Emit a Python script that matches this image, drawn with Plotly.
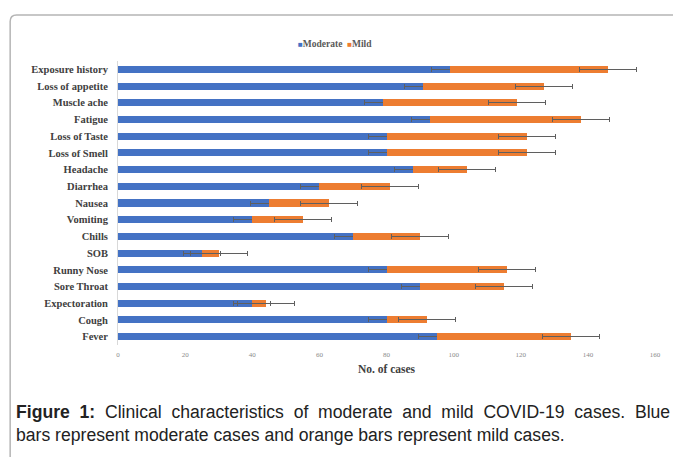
import plotly.graph_objects as go

categories = ["Exposure history", "Loss of appetite", "Muscle ache", "Fatigue",
              "Loss of Taste", "Loss of Smell", "Headache", "Diarrhea", "Nausea",
              "Vomiting", "Chills", "SOB", "Runny Nose", "Sore Throat",
              "Expectoration", "Cough", "Fever"]
moderate = [99, 91, 79, 93, 80, 80, 88, 60, 45, 40, 70, 25, 80, 90, 40, 80, 95]
mild = [47, 36, 40, 45, 42, 42, 16, 21, 18, 15, 20, 5, 36, 25, 4, 12, 40]
moderate_err = 5.5
mild_err = 8.5
x_ticks = [0, 20, 40, 60, 80, 100, 120, 140, 160]

# page has an 8px body margin; the figure sits at (8, 8) in the window
OFF = 8
W, H = 681 - OFF, 457 - OFF
plot_left, plot_right, plot_top, plot_bottom = 117.5, 655.3, 60.6, 345.4  # window coords
L = plot_left - OFF
R = 681 - plot_right
T = plot_top - OFF
B = (457 - OFF) - (plot_bottom - OFF)
pw = plot_right - plot_left
ph = plot_bottom - plot_top

def px(x):
    return (x - plot_left) / pw

def py(y):
    return (plot_bottom - y) / ph

BLUE = "#4472C4"
ORANGE = "#ED7D31"
ERR = "#5f5f5f"

fig = go.Figure()
fig.add_trace(go.Bar(
    y=categories, x=moderate, orientation="h", name="Moderate",
    marker=dict(color=BLUE, line=dict(width=0)),
    error_x=dict(type="constant", value=moderate_err, color=ERR, thickness=1, width=2.5),
    showlegend=False,
))
fig.add_trace(go.Bar(
    y=categories, x=mild, orientation="h", name="Mild",
    marker=dict(color=ORANGE, line=dict(width=0)),
    error_x=dict(type="constant", value=mild_err, color=ERR, thickness=1, width=2.5),
    showlegend=False,
))

serif = "Liberation Serif, Times New Roman, serif"

frame_path = (f"M {px(9.5)},{py(470)} L {px(9.5)},{py(21)} "
              f"Q {px(9.5)},{py(14.5)} {px(16)},{py(14.5)} L {px(690)},{py(14.5)}")

NB = "\u00a0"
line1_words = ["<b>Figure", "1:</b>", "Clinical", "characteristics", "of", "moderate", "and",
               "mild", "COVID-19", "cases.", "Blue"]
line1 = (" " + NB).join(line1_words)
line2 = "bars represent moderate cases and orange bars represent mild cases."

fig.update_layout(
    width=W, height=H,
    margin=dict(l=L, r=R, t=T, b=B, pad=0),
    paper_bgcolor="white", plot_bgcolor="white",
    barmode="stack", bargap=0.58,
    font=dict(family=serif, color="#404040"),
    xaxis=dict(range=[0, 160], tickvals=x_ticks, showgrid=False, zeroline=False,
               showline=False, ticks="", tickfont=dict(size=7, color="#8a8a8a"),
               ticklabelstandoff=4,
               title=dict(text="<b>No. of cases</b>", font=dict(size=11.5, color="#404040", family=serif),
                          standoff=6)),
    yaxis=dict(autorange="reversed", showgrid=False, zeroline=False,
               showline=True, linecolor="#d9d9d9", linewidth=1, ticks="",
               ticklabelstandoff=7,
               tickfont=dict(size=10.5, color="#404040", family=serif, weight="bold")),
    shapes=[dict(type="path", path=frame_path, xref="paper", yref="paper",
                 line=dict(color="#b5b5b5", width=1.5))],
    annotations=[
        dict(xref="paper", yref="paper", x=px(335), y=py(44), xanchor="center", yanchor="middle",
             showarrow=False,
             text=(f"<span style='color:{BLUE};font-size:8px'>■</span><b>Moderate</b>{NB}{NB}"
                   f"<span style='color:{ORANGE};font-size:8px'>■</span><b>Mild</b>"),
             font=dict(size=9.5, color="#595959", family=serif)),
        dict(xref="paper", yref="paper", x=px(13), y=py(401), xanchor="left", yanchor="top",
             showarrow=False, align="left",
             text=line1 + "<br>" + line2,
             font=dict(size=17.6, color="#222222", family="Liberation Sans, Arial, sans-serif")),
    ],
)

fig.write_html("out.html")
